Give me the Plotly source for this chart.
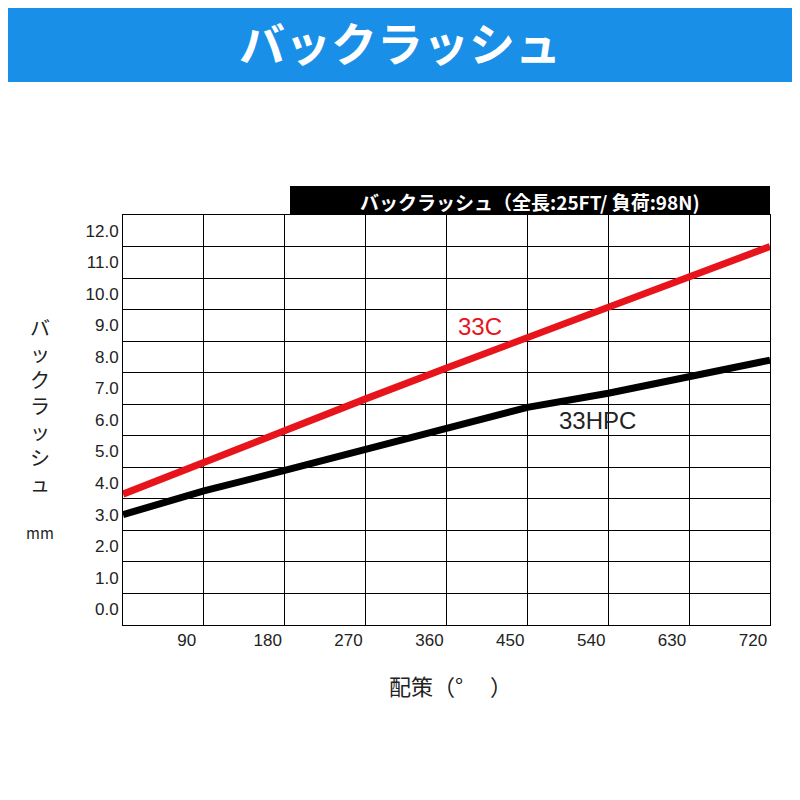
import plotly.graph_objects as go

x_vals = [0, 90, 180, 270, 360, 450, 540, 630, 720]
c33 = [3.65, 4.67, 5.65, 6.67, 7.65, 8.6, 9.6, 10.5, 11.5]
hpc33 = [3.0, 3.75, 4.4, 5.05, 5.7, 6.4, 6.85, 7.35, 7.9]
x_ticks = [90, 180, 270, 360, 450, 540, 630, 720]
y_ticks = list(range(13))

F = "Noto Sans CJK JP"
T, B, L, R = 207, 183, 115, 38
PH = 800 - T - B
PW = 800 - L - R
def py(pix):  # reference pixel y -> paper y
    return (800 + 8 - B - pix) / PH
def px(pix):
    return (pix - 8 - L) / PW

fig = go.Figure()
fig.add_trace(go.Scatter(x=x_vals, y=hpc33, mode="lines", line=dict(color="black", width=7), showlegend=False))
fig.add_trace(go.Scatter(x=x_vals, y=c33, mode="lines", line=dict(color="#e8141c", width=7), showlegend=False))

fig.update_layout(
    width=800, height=800, paper_bgcolor="white", plot_bgcolor="white",
    margin=dict(l=L, r=R, t=T, b=B), font=dict(family=F, color="#222"),
    xaxis=dict(range=[0, 720], tickvals=[v - 19 for v in x_ticks], ticktext=[str(v) for v in x_ticks],
               showgrid=False, ticks="", tickfont=dict(size=17, family="Liberation Sans"),
               minor=dict(tick0=0, dtick=90, showgrid=True, gridcolor="black", gridwidth=1),
               showline=True, linecolor="black", mirror=True, zeroline=False),
    yaxis=dict(range=[-0.5, 12.5], tickvals=y_ticks, ticktext=[f"{v:.1f}" for v in y_ticks],
               showgrid=False, ticks="", tickfont=dict(size=17, family="Liberation Sans"),
               minor=dict(tick0=0.5, dtick=1, showgrid=True, gridcolor="black", gridwidth=1),
               showline=True, linecolor="black", mirror=True, zeroline=False),
    shapes=[
        dict(type="rect", xref="paper", yref="paper", x0=px(-20), x1=px(820), y0=py(82), y1=py(-20),
             fillcolor="#1a8fe8", line=dict(width=0), layer="below"),
        dict(type="rect", xref="paper", yref="paper", x0=px(290), x1=1.0, y0=1.0, y1=py(186),
             fillcolor="black", line=dict(width=0)),
    ],
    annotations=[
        dict(text="<b>バックラッシュ</b>", xref="paper", yref="paper", x=px(400), y=py(41),
             showarrow=False, font=dict(size=46, color="white", family=F), xanchor="center", yanchor="middle"),
        dict(text="<b>バックラッシュ（全長:25FT/ 負荷:98N)</b>", xref="paper", yref="paper", x=px(530), y=py(201),
             showarrow=False, font=dict(size=19, color="white", family=F), xanchor="center", yanchor="middle"),
        dict(text="バ<br>ッ<br>ク<br>ラ<br>ッ<br>シ<br>ュ", xref="paper", yref="paper", x=px(40), y=py(405),
             showarrow=False, font=dict(size=20, color="#222", family=F), xanchor="center", yanchor="middle"),
        dict(text="mm", xref="paper", yref="paper", x=px(40), y=py(532),
             showarrow=False, font=dict(size=15, color="#222", family=F), xanchor="center", yanchor="middle"),
        dict(text="配策（°　 ）", xref="paper", yref="paper", x=px(450), y=py(685),
             showarrow=False, font=dict(size=22, color="#222", family=F), xanchor="center", yanchor="middle"),
        dict(text="33C", x=397, y=8.95, showarrow=False, font=dict(size=24, color="#e8141c", family="Liberation Sans")),
        dict(text="33HPC", x=528, y=6.0, showarrow=False, font=dict(size=24, color="#222", family="Liberation Sans")),
    ],
)
fig.write_html("out.html")
